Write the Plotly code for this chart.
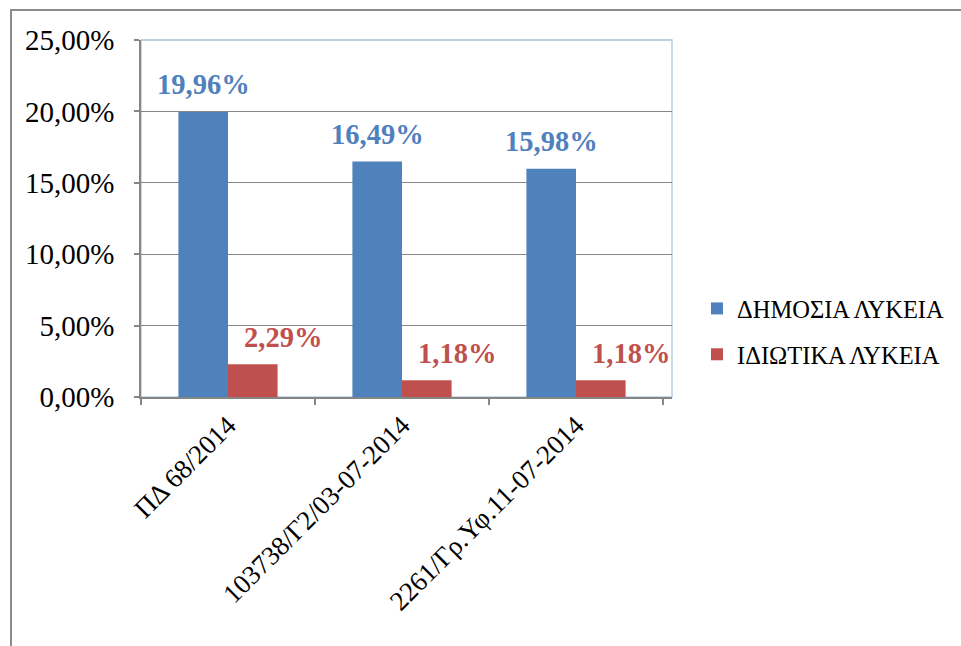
import plotly.graph_objects as go

categories = ["ΠΔ 68/2014", "103738/Γ2/03-07-2014", "2261/Γρ.Υφ.11-07-2014"]
series_names = ["ΔΗΜΟΣΙΑ ΛΥΚΕΙΑ", "ΙΔΙΩΤΙΚΑ ΛΥΚΕΙΑ"]
public_values = [19.96, 16.49, 15.98]
private_values = [2.29, 1.18, 1.18]
y_tick_values = [0, 5, 10, 15, 20, 25]
y_tick_labels = ["0,00%", "5,00%", "10,00%", "15,00%", "20,00%", "25,00%"]

BLUE = "#4F81BD"
RED = "#C0504D"
GRID = "#868686"
FONT = "Liberation Serif"

W, H = 961, 646
PL, PR, PT, PB = 141, 672, 40, 397  # plot area in pixels


def fmt(v):
    return f"{v:.2f}%".replace(".", ",")


def px_x(px):
    return (px - PL) / (PR - PL)


def px_y(py):
    return (PB - py) / (PB - PT)


fig = go.Figure()
fig.add_trace(go.Bar(x=categories, y=public_values, name=series_names[0],
                     marker=dict(color=BLUE, line=dict(width=0)), legendgroup="a"))
fig.add_trace(go.Bar(x=categories, y=private_values, name=series_names[1],
                     marker=dict(color=RED, line=dict(width=0)), legendgroup="b"))

annotations = []
for c, v in zip(categories, public_values):
    annotations.append(dict(x=c, y=v, xref="x", yref="y", text=fmt(v), showarrow=False,
                            xshift=-25, yshift=27, yanchor="middle", xanchor="center",
                            font=dict(family=FONT, size=28.5, color=BLUE, weight="bold")))
for c, v in zip(categories, private_values):
    annotations.append(dict(x=c, y=v, xref="x", yref="y", text=fmt(v), showarrow=False,
                            xshift=55, yshift=27, yanchor="middle", xanchor="center",
                            font=dict(family=FONT, size=28.5, color=RED, weight="bold")))

shapes = [
    # outer chart border (only top/left visible in frame)
    dict(type="rect", xref="paper", yref="paper",
         x0=px_x(11), x1=px_x(W + 20), y0=px_y(H + 20), y1=px_y(10),
         line=dict(color="#8C8C8C", width=2), layer="below"),
    # plot area border
    dict(type="rect", xref="paper", yref="paper", x0=0, x1=1, y0=0, y1=1,
         line=dict(color="#B9CDE5", width=1.5), layer="below"),
    dict(type="line", xref="paper", yref="paper", x0=0, x1=1, y0=1, y1=1,
         line=dict(color="#B9CDE5", width=1.5), layer="above"),
]

fig.update_layout(
    template="none",
    width=W, height=H,
    margin=dict(l=PL, r=W - PR, t=PT, b=H - PB, pad=0, autoexpand=False),
    paper_bgcolor="white", plot_bgcolor="white",
    barmode="group", bargap=0.43, bargroupgap=0,
    font=dict(family=FONT, size=27, color="black"),
    showlegend=True,
    legend=dict(x=px_x(697), y=px_y(331.5), xanchor="left", yanchor="middle",
                font=dict(family=FONT, size=24.5, color="black"),
                bgcolor="rgba(0,0,0,0)", tracegroupgap=11, traceorder="grouped"),
    annotations=annotations,
    shapes=shapes,
)
fig.update_xaxes(
    automargin=False, showgrid=False, showline=True, linecolor=GRID, linewidth=1.5,
    ticks="outside", tickson="boundaries", ticklen=6, tickcolor=GRID, tickwidth=1.5,
    tickangle=-45, tickfont=dict(family=FONT, size=27, color="black"),
    zeroline=False,
)
fig.update_yaxes(
    automargin=False, range=[0, 25], tickmode="array", tickvals=y_tick_values,
    ticktext=y_tick_labels, showgrid=True, gridcolor=GRID, gridwidth=1.2,
    showline=True, linecolor=GRID, linewidth=1.5, ticks="outside", ticklen=5,
    tickcolor=GRID, tickwidth=1.5, ticklabelstandoff=14, zeroline=False,
    tickfont=dict(family=FONT, size=29, color="black"),
)

fig.write_html(
    "out.html",
    config={"displayModeBar": False},
    post_script="document.body.style.margin='0';document.body.style.overflow='hidden';",
)
